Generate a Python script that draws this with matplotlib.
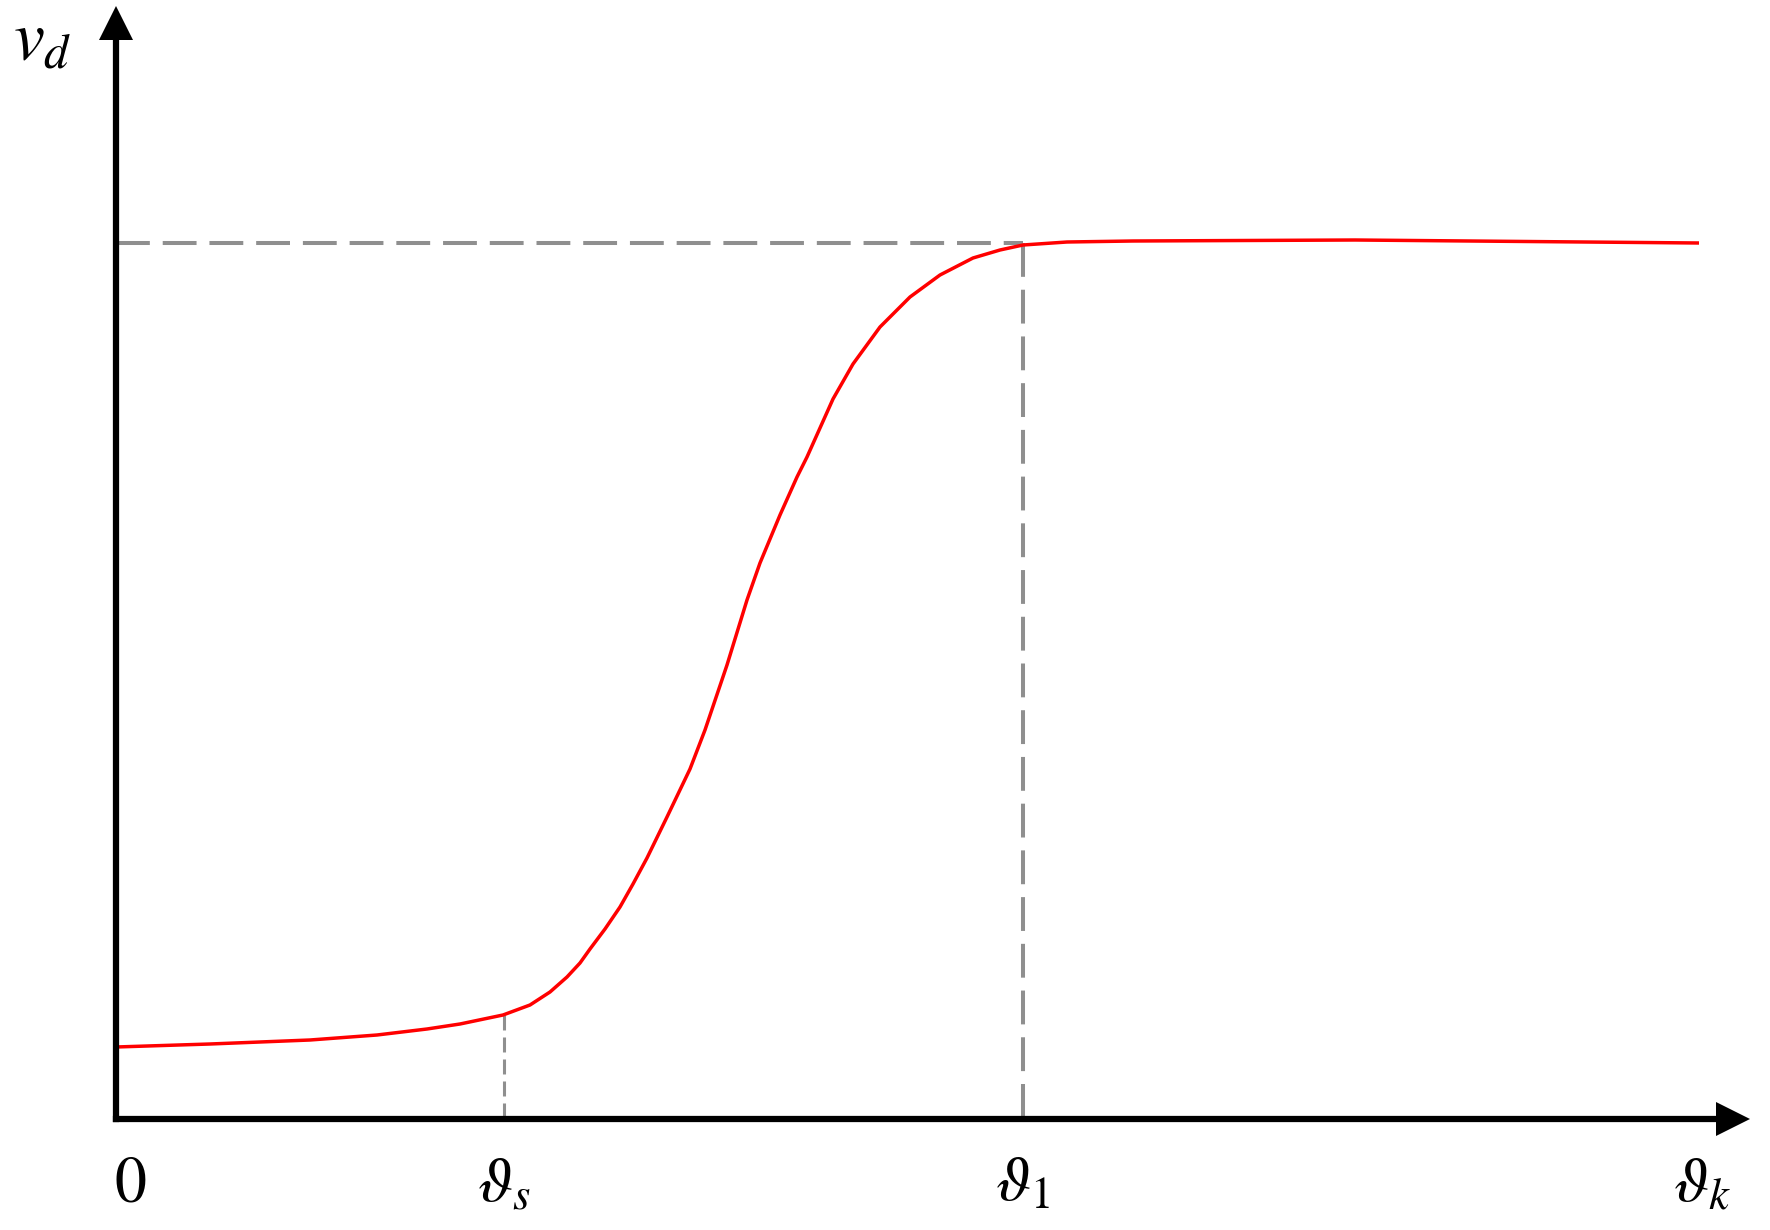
import numpy as np
import matplotlib.pyplot as plt

plt.rcParams['mathtext.fontset'] = 'stix'

# curve (x: angle, y: speed, arbitrary units)
theta = [0.00, 0.94, 1.94, 2.61, 3.11, 3.44, 3.87, 4.14, 4.34, 4.51, 4.64, 4.74,
         4.89, 5.04, 5.17, 5.31, 5.51, 5.74, 5.89, 6.11, 6.31, 6.44, 6.64, 6.81,
         6.91, 7.17, 7.37, 7.64, 7.94, 8.24, 8.57, 8.84, 9.07, 9.51, 10.17, 12.39,
         15.83]
v_d = [0.72, 0.75, 0.79, 0.84, 0.90, 0.95, 1.04, 1.14, 1.27, 1.42, 1.56, 1.70,
       1.90, 2.12, 2.35, 2.61, 3.02, 3.50, 3.89, 4.54, 5.19, 5.56, 6.04, 6.42,
       6.62, 7.20, 7.55, 7.92, 8.22, 8.44, 8.61, 8.69, 8.74, 8.77, 8.78, 8.79,
       8.76]

theta_s = 3.88
v_s = 1.04
theta_1 = 9.07
v_1 = 8.76
theta_k = 15.86

tick_pos = [0.14, theta_s, theta_1, theta_k]
tick_labels = [r'$0$', r'$\vartheta_s$', r'$\vartheta_1$', r'$\vartheta_k$']

x_end = 16.17   # arrow marker centres
y_end = 10.96

fig = plt.figure(figsize=(17.7, 12.3), dpi=100)
ax = fig.add_axes([0, 0, 1, 1])
ax.set_xlim(-1.16, 16.54)
ax.set_ylim(-1.11, 11.19)
ax.axis('off')

grey = '#8f8f8f'
# dashed guides
ax.plot([0, theta_1], [v_1, v_1], color=grey, lw=2.9, dashes=(8.4, 3.2), zorder=1)
ax.plot([theta_1, theta_1], [v_1, 0], color=grey, lw=2.9, dashes=(8.4, 3.2), zorder=1)
ax.plot([theta_s, theta_s], [v_s, 0], color=grey, lw=2.2, dashes=(4.9, 2.3), zorder=1)

# the curve
ax.plot(theta, v_d, color='#ff0000', lw=2.5, zorder=2,
        solid_joinstyle='round', solid_capstyle='butt')

# axes with arrow heads
ax.plot([0, x_end], [0, 0], color='black', lw=4.5, solid_capstyle='projecting', zorder=3)
ax.plot([0, 0], [0, y_end], color='black', lw=4.5, solid_capstyle='projecting', zorder=3)
ax.plot([x_end], [0], marker='>', ms=24, color='black', mew=0, zorder=4)
ax.plot([0], [y_end], marker='^', ms=24, color='black', mew=0, zorder=4)

# labels
for p, lab in zip(tick_pos, tick_labels):
    ax.text(p, -0.64, lab, fontsize=46, ha='center', va='center')
ax.text(-0.74, 10.79, r'$v_d$', fontsize=50, ha='center', va='center')

fig.savefig('out.png', dpi=100)
